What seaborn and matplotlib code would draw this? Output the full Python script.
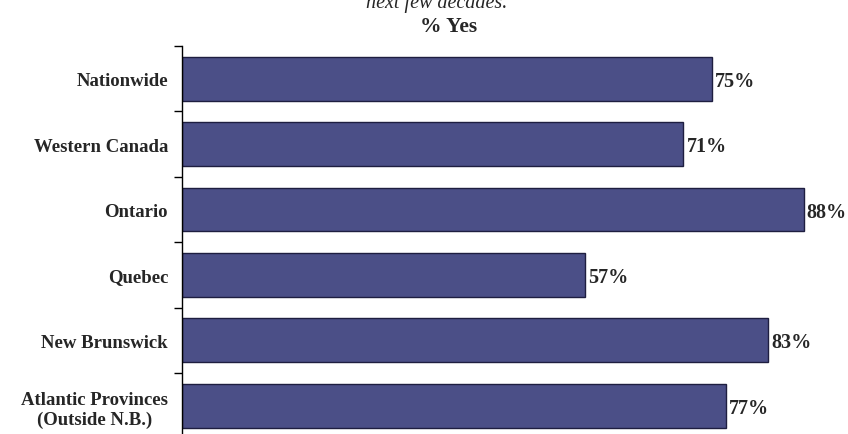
import matplotlib.pyplot as plt
import seaborn as sns
import pandas as pd

regions = ['Nationwide', 'Western Canada', 'Ontario', 'Quebec', 'New Brunswick',
           'Atlantic Provinces\n(Outside N.B.)']
pct_yes = [75, 71, 88, 57, 83, 77]

df = pd.DataFrame({'region': regions, 'pct': pct_yes})

sns.set_style('white')
plt.rcParams['font.family'] = ['Liberation Serif', 'DejaVu Serif']

fig = plt.figure(figsize=(8.48, 4.35), dpi=100)
# axes runs a little past the bottom edge, as in the original
ax = fig.add_axes([182 / 848, 1 - 439.5 / 435, 1 - 182 / 848, 392.5 / 435])

sns.barplot(data=df, x='pct', y='region', orient='h', color='#4B4F87',
            saturation=1, edgecolor='#1E1E40', linewidth=1.0, width=0.67, ax=ax)

for i, v in enumerate(pct_yes):
    ax.text(v + 0.45, i + 0.03, f'{v}%', va='center', ha='left', fontsize=14.5,
            fontweight='bold')

ax.set_xlim(0, 94.3)
ax.set_ylim(len(regions) - 0.5, -0.5)
ax.set_xlabel('')
ax.set_ylabel('')
ax.set_xticks([])
ax.set_yticks([i - 0.5 for i in range(len(regions) + 1)], minor=True)
ax.tick_params(axis='y', which='minor', length=6, width=1, color='black', direction='out', left=True)
ax.tick_params(axis='y', which='major', length=0, pad=10, labelsize=13.5)
for lbl in ax.get_yticklabels():
    lbl.set_fontweight('bold')
    lbl.set_multialignment('center')
for s in ['top', 'right', 'bottom']:
    ax.spines[s].set_visible(False)
ax.spines['left'].set_color('black')
ax.spines['left'].set_linewidth(1.0)

fig.text(437 / 848, 1 - 3 / 435, 'next few decades.', ha='center', va='center',
         fontsize=14.5, style='italic')
fig.text(449 / 848, 1 - 27 / 435, '% Yes', ha='center', va='center',
         fontsize=15.5, fontweight='bold')

fig.savefig('out.png', dpi=100)
